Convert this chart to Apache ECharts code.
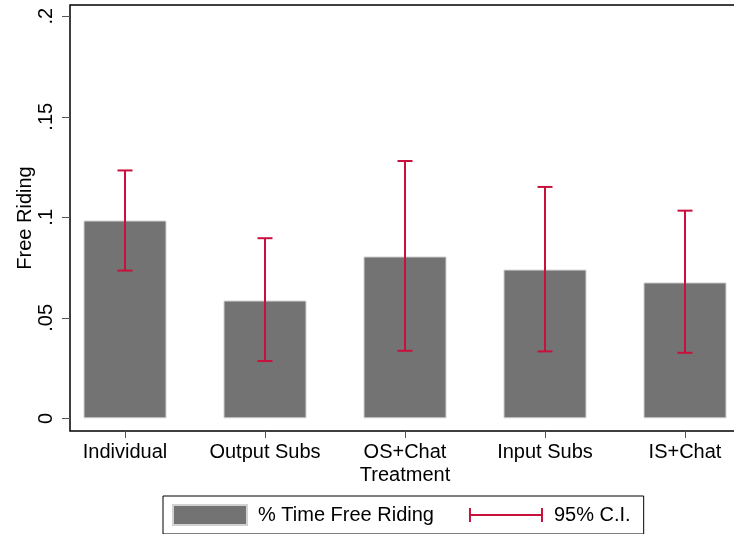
<!DOCTYPE html>
<html>
<head>
<meta charset="utf-8">
<script src="https://cdn.jsdelivr.net/npm/echarts@6/dist/echarts.min.js"></script>
<style>
html,body{margin:0;padding:0;background:#fff;}
#chart{width:734px;height:534px;}
</style>
</head>
<body>
<div id="chart"></div>
<script>
const categories = ['Individual', 'Output Subs', 'OS+Chat', 'Input Subs', 'IS+Chat'];
const freeRiding = [0.0984, 0.0586, 0.0805, 0.0740, 0.0676];
const ciLow = [0.0735, 0.0285, 0.0336, 0.0333, 0.0326];
const ciHigh = [0.1233, 0.0896, 0.1280, 0.1151, 0.1033];
const yTicks = [0, 0.05, 0.1, 0.15, 0.2];
const yTickLabels = ['0', '.05', '.1', '.15', '.2'];
const catIndex = categories.map((c, i) => i);

const FONT = 'Liberation Sans, Arial, Helvetica, sans-serif';
const CI_COLOR = '#c8103c';
const BAR_COLOR = '#737373';
const FS = 20;

const chart = echarts.init(document.getElementById('chart'), null, {renderer: 'canvas'});

const option = {
  backgroundColor: '#fff',
  animation: false,
  textStyle: {fontFamily: FONT},
  grid: {
    left: 70, top: 5, width: 670, bottom: 103,
    outerBoundsMode: 'none', containLabel: false,
    show: true, borderColor: '#000', borderWidth: 1.5, backgroundColor: 'transparent'
  },
  xAxis: {
    type: 'value',
    min: -0.39286, max: 4.39286,
    axisLine: {show: false, onZero: false},
    splitLine: {show: false},
    axisTick: {show: true, customValues: catIndex, length: 7, lineStyle: {color: '#555', width: 1}},
    axisLabel: {
      customValues: catIndex,
      formatter: v => categories[Math.round(v)],
      fontSize: FS, color: '#000', fontFamily: FONT, margin: 11
    },
    name: 'Treatment', nameLocation: 'middle', nameGap: 34, nameMoveOverlap: false,
    nameTextStyle: {fontSize: FS, color: '#000', fontFamily: FONT}
  },
  yAxis: {
    type: 'value',
    min: -0.0063, max: 0.2056,
    axisLine: {show: false, onZero: false},
    splitLine: {show: false},
    axisTick: {show: true, customValues: yTicks, length: 8, lineStyle: {color: '#555', width: 1}},
    axisLabel: {
      customValues: yTicks,
      formatter: v => yTickLabels[yTicks.findIndex(t => Math.abs(t - v) < 1e-9)],
      rotate: 90, fontSize: FS, color: '#000', fontFamily: FONT, margin: 14
    },
    name: 'Free Riding', nameLocation: 'middle', nameGap: 35, nameMoveOverlap: false,
    nameTextStyle: {fontSize: FS, color: '#000', fontFamily: FONT}
  },
  legend: {
    left: 163, top: 496,
    orient: 'horizontal',
    itemWidth: 74, itemHeight: 20, itemGap: 35,
    padding: [8, 13, 8, 9],
    borderColor: '#000', borderWidth: 1,
    textStyle: {fontSize: FS, color: '#000', fontFamily: FONT, padding: [0, 0, 0, 6]},
    data: [
      {name: '% Time Free Riding', icon: 'rect'},
      {name: '95% C.I.', icon: 'path://M0,0 h2 v6 h71 v-6 h2 v14 h-2 v-6 h-71 v6 h-2 z',
       itemStyle: {color: CI_COLOR, borderWidth: 0}}
    ]
  },
  series: [
    {
      name: '% Time Free Riding',
      type: 'bar',
      barWidth: 83,
      z: 2,
      itemStyle: {color: BAR_COLOR, borderColor: '#d2d2d2', borderWidth: 1},
      data: catIndex.map(i => [i, freeRiding[i]])
    },
    {
      name: '95% C.I.',
      type: 'custom',
      z: 5,
      itemStyle: {color: CI_COLOR},
      encode: {x: 0, y: [1, 2]},
      data: catIndex.map(i => [i, ciLow[i], ciHigh[i]]),
      renderItem: function (params, api) {
        const x = api.value(0);
        const pLo = api.coord([x, api.value(1)]);
        const pHi = api.coord([x, api.value(2)]);
        const half = 7.5;
        const st = {stroke: CI_COLOR, lineWidth: 2, fill: null};
        return {
          type: 'group',
          children: [
            {type: 'line', shape: {x1: pLo[0], y1: pLo[1], x2: pHi[0], y2: pHi[1]}, style: st},
            {type: 'line', shape: {x1: pHi[0] - half, y1: pHi[1], x2: pHi[0] + half, y2: pHi[1]}, style: st},
            {type: 'line', shape: {x1: pLo[0] - half, y1: pLo[1], x2: pLo[0] + half, y2: pLo[1]}, style: st}
          ]
        };
      }
    }
  ]
};
chart.setOption(option);
</script>
</body>
</html>
